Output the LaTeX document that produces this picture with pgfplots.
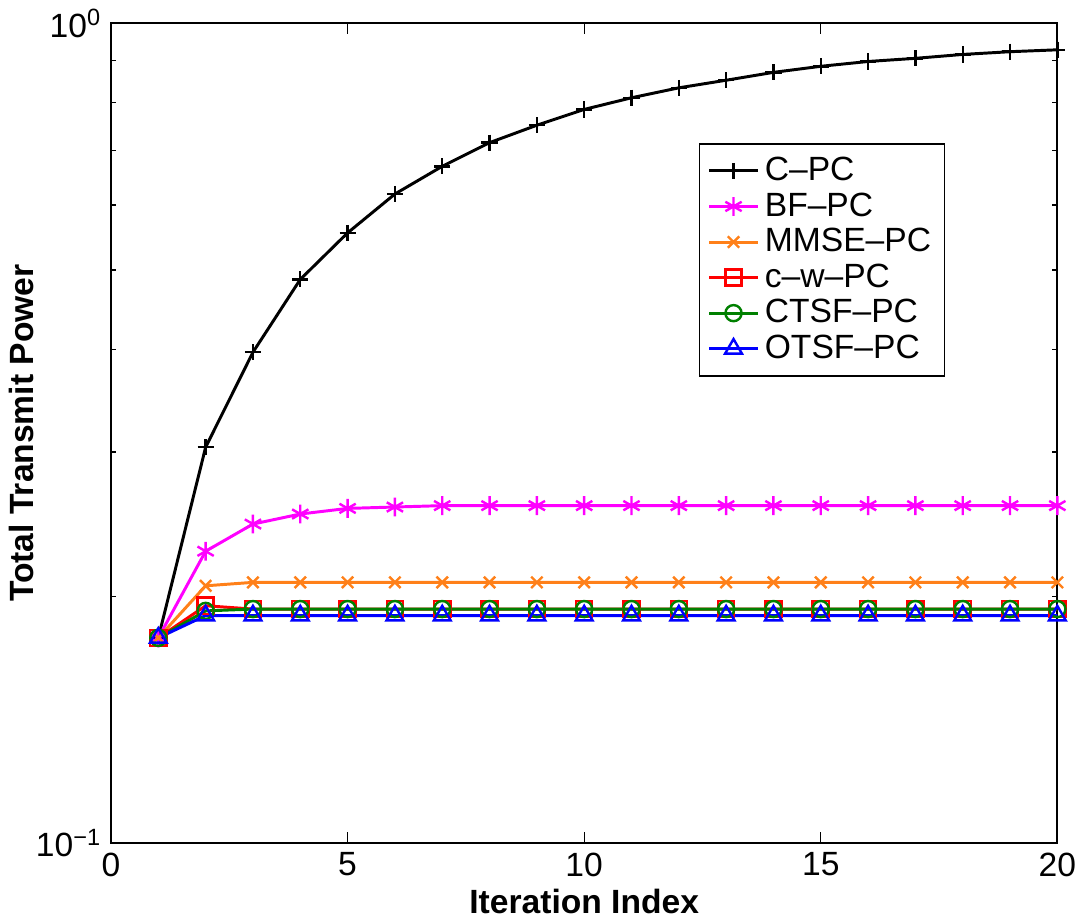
\documentclass[border=0pt]{standalone}
\usepackage{fontspec}
\setmainfont{Liberation Sans}
\usepackage{pgfplots}
\pgfplotsset{compat=1.18}
\definecolor{bfpc}{rgb}{1,0,1}
\definecolor{mmse}{rgb}{1,0.5,0.1}
\definecolor{ctsf}{rgb}{0,0.5,0}
\definecolor{otsf}{rgb}{0,0,1}
\definecolor{cwpc}{rgb}{1,0,0}
\begin{document}
\begin{tikzpicture}
\begin{axis}[
  width=352pt, height=305pt, scale only axis,
  ymode=log, log basis y=10,
  xmin=0, xmax=20, ymin=0.1, ymax=1,
  xtick={0,5,10,15,20}, xticklabels={0,5,10,15,20},
  ytick={0.1,1}, yticklabels={10\textsuperscript{−1},10\textsuperscript{0}},
  minor ytick={0.2,0.3,0.4,0.5,0.6,0.7,0.8,0.9},
  tick align=inside, major tick length=4pt, minor tick length=2pt,
  tick style={black, line width=0.5pt},
  axis line style={line width=0.7pt},
  tick label style={font=\fontsize{12.5}{14}\selectfont},
  xlabel={\textbf{Iteration Index}}, ylabel={\textbf{Total Transmit Power}},
  label style={font=\fontsize{12.5}{14}\selectfont},
  xlabel style={yshift=2pt}, ylabel style={yshift=-6pt},
  legend style={at={(0.621,0.854)}, anchor=north west, draw=black, line width=0.6pt,
    font=\fontsize{12.5}{15}\selectfont, inner xsep=3pt, inner ysep=3pt,
    row sep=-1pt},
  legend cell align=left,
  legend image code/.code={\draw[mark repeat=2,mark phase=2] plot coordinates {(0cm,0cm) (0.32cm,0cm) (0.64cm,0cm)};},
  every axis plot/.append style={line width=1.1pt, mark size=3pt, mark options={solid, line width=0.9pt}},
]
\addplot[black, mark=+] coordinates {
(1,0.178) (2,0.304) (3,0.397) (4,0.487) (5,0.555) (6,0.619) (7,0.669) (8,0.715)
(9,0.751) (10,0.785) (11,0.811) (12,0.834) (13,0.852) (14,0.871) (15,0.886)
(16,0.898) (17,0.906) (18,0.916) (19,0.923) (20,0.928)};
\addlegendentry{C–PC}
\addplot[bfpc, mark=asterisk, mark size=3.5pt] coordinates {
(1,0.178) (2,0.227) (3,0.245) (4,0.252) (5,0.256) (6,0.257) (7,0.258) (8,0.258)
(9,0.258) (10,0.258) (11,0.258) (12,0.258) (13,0.258) (14,0.258) (15,0.258)
(16,0.258) (17,0.258) (18,0.258) (19,0.258) (20,0.258)};
\addlegendentry{BF–PC}
\addplot[mmse, mark=x] coordinates {
(1,0.178) (2,0.206) (3,0.208) (4,0.208) (5,0.208) (6,0.208) (7,0.208) (8,0.208)
(9,0.208) (10,0.208) (11,0.208) (12,0.208) (13,0.208) (14,0.208) (15,0.208)
(16,0.208) (17,0.208) (18,0.208) (19,0.208) (20,0.208)};
\addlegendentry{MMSE–PC}
\addplot[cwpc, mark=square] coordinates {
(1,0.178) (2,0.1948) (3,0.193) (4,0.193) (5,0.193) (6,0.193) (7,0.193) (8,0.193)
(9,0.193) (10,0.193) (11,0.193) (12,0.193) (13,0.193) (14,0.193) (15,0.193)
(16,0.193) (17,0.193) (18,0.193) (19,0.193) (20,0.193)};
\addlegendentry{c–w–PC}
\addplot[ctsf, mark=o] coordinates {
(1,0.178) (2,0.192) (3,0.193) (4,0.193) (5,0.193) (6,0.193) (7,0.193) (8,0.193)
(9,0.193) (10,0.193) (11,0.193) (12,0.193) (13,0.193) (14,0.193) (15,0.193)
(16,0.193) (17,0.193) (18,0.193) (19,0.193) (20,0.193)};
\addlegendentry{CTSF–PC}
\addplot[otsf, mark=triangle, mark size=3.6pt] coordinates {
(1,0.178) (2,0.1895) (3,0.1895) (4,0.1895) (5,0.1895) (6,0.1895) (7,0.1895) (8,0.1895)
(9,0.1895) (10,0.1895) (11,0.1895) (12,0.1895) (13,0.1895) (14,0.1895) (15,0.1895)
(16,0.1895) (17,0.1895) (18,0.1895) (19,0.1895) (20,0.1895)};
\addlegendentry{OTSF–PC}
\end{axis}
\end{tikzpicture}
\end{document}
